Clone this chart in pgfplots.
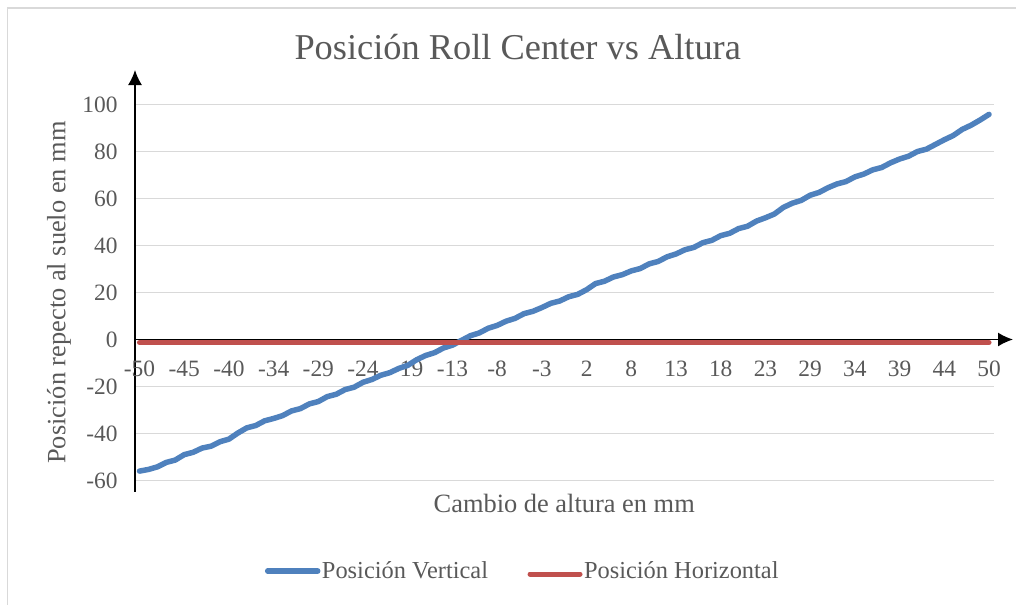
\documentclass[border=0pt]{standalone}
\usepackage{pgfplots}
\pgfplotsset{compat=1.18}
\usepackage{pgfplotstable}
\usepackage{fontspec}
\setmainfont{Liberation Serif}
\usetikzlibrary{arrows.meta}
\definecolor{txt}{HTML}{595959}
\definecolor{grd}{HTML}{D9D9D9}
\definecolor{blu}{HTML}{4F81BD}
\definecolor{rd}{HTML}{C0504D}

\pgfplotstableread{
i v h
0 -56.0 0
1 -55.3 0
2 -54.2 0
3 -52.3 0
4 -51.3 0
5 -49.0 0
6 -48.0 0
7 -46.2 0
8 -45.4 0
9 -43.5 0
10 -42.4 0
11 -39.8 0
12 -37.6 0
13 -36.6 0
14 -34.6 0
15 -33.6 0
16 -32.4 0
17 -30.4 0
18 -29.4 0
19 -27.4 0
20 -26.4 0
21 -24.3 0
22 -23.3 0
23 -21.3 0
24 -20.3 0
25 -18.2 0
26 -17.0 0
27 -15.2 0
28 -14.1 0
29 -12.3 0
30 -11.0 0
31 -8.6 0
32 -6.8 0
33 -5.6 0
34 -3.6 0
35 -2.4 0
36 -0.4 0
37 1.6 0
38 2.8 0
39 4.8 0
40 6.0 0
41 7.8 0
42 9.0 0
43 11.0 0
44 12.0 0
45 13.6 0
46 15.4 0
47 16.4 0
48 18.2 0
49 19.2 0
50 21.2 0
51 23.8 0
52 24.8 0
53 26.6 0
54 27.6 0
55 29.2 0
56 30.2 0
57 32.2 0
58 33.2 0
59 35.2 0
60 36.4 0
61 38.2 0
62 39.2 0
63 41.2 0
64 42.2 0
65 44.2 0
66 45.2 0
67 47.2 0
68 48.2 0
69 50.4 0
70 51.8 0
71 53.4 0
72 56.2 0
73 58.0 0
74 59.2 0
75 61.4 0
76 62.6 0
77 64.6 0
78 66.2 0
79 67.2 0
80 69.2 0
81 70.4 0
82 72.2 0
83 73.2 0
84 75.2 0
85 76.8 0
86 78.0 0
87 80.0 0
88 81.0 0
89 83.0 0
90 85.0 0
91 86.8 0
92 89.4 0
93 91.2 0
94 93.4 0
95 95.8 0
}\datatab

\begin{document}
\begin{tikzpicture}
\draw[grd, line width=1.5bp] (7.5bp,-700bp) -- (7.5bp,-8bp) -- (1100bp,-8bp);
\begin{axis}[
  at={(135bp,-480.5bp)}, anchor=south west,
  scale only axis, width=858.5bp, height=376bp,
  xmin=-0.5, xmax=95.5, ymin=-60, ymax=100,
  axis x line=middle, axis y line=left,
  hide obscured x ticks=false, hide obscured y ticks=false,
  axis line style={black, line width=1.5bp},
  x axis line style={-{Latex[length=15bp,width=14bp]}, shorten >=-19.5bp},
  y axis line style={-{Latex[length=15bp,width=14bp]}, shorten >=-34.5bp, shorten <=-11bp},
  major tick length=0pt,
  xtick={0,5,...,95},
  xticklabels={-50,-45,-40,-34,-29,-24,-19,-13,-8,-3,2,8,13,18,23,29,34,39,44,50},
  ytick={-60,-40,-20,0,20,40,60,80,100},
  yticklabels={-60,-40,-20,0,20,40,60,80,100},
  ymajorgrids, grid style={grd, line width=1.5bp},
  tick label style={font=\fontsize{23.5}{28}\selectfont, text=txt},
  xticklabel style={yshift=-18bp},
  yticklabel style={xshift=-14bp},
  title={Posición Roll Center vs Altura},
  title style={at={(axis description cs:0.4458,1.1050)}, anchor=base, font=\fontsize{36.5}{44}\selectfont, text=txt},
  xlabel={Cambio de altura en mm},
  xlabel style={at={(axis description cs:0.5,-0.0864)}, anchor=base, font=\fontsize{26.5}{32}\selectfont, text=txt},
  ylabel={Posición repecto al suelo en mm},
  ylabel style={at={(axis description cs:-0.0885,0.5)}, anchor=center, font=\fontsize{26.5}{32}\selectfont, text=txt},
  legend style={at={(axis description cs:0.4514,-0.2407)}, anchor=center, draw=none, fill=none,
    font=\fontsize{24.5}{29}\selectfont, text=txt, inner sep=0pt,
    nodes={inner sep=1.5bp},
    /tikz/every even column/.append style={column sep=38bp}},
  legend columns=2,
  legend image code/.code={\draw[#1, line cap=round] (0bp,0bp) -- (50bp,0bp);},
]
\addplot[blu, line width=5.5bp, line join=round, line cap=round] table[x=i, y=v]{\datatab};
\addlegendentry{Posición Vertical}
\addplot[rd, line width=5bp, line cap=round, yshift=-3bp] table[x=i, y=h]{\datatab};
\addlegendentry{Posición Horizontal}
\end{axis}
\pgfresetboundingbox
\useasboundingbox (0,0) rectangle (1016bp,-605bp);
\end{tikzpicture}
\end{document}
